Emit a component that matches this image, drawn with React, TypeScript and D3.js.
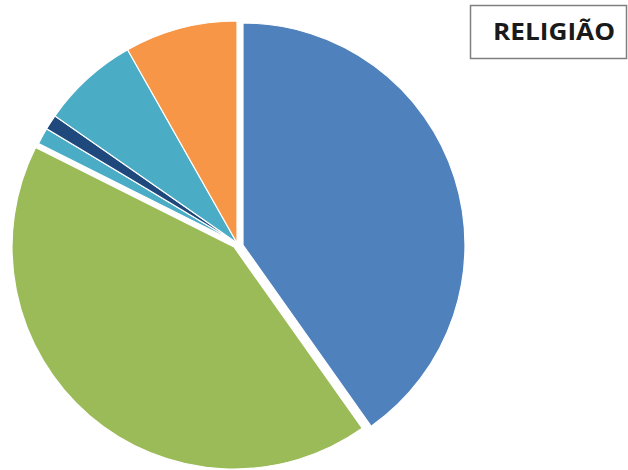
import React from "react";
import * as d3 from "d3";

const categories = ["Católica", "Evangélica", "Espírita", "Outras", "Sem religião", "Não declarada"];
const values = [40.2, 42.2, 1.2, 1.1, 7.1, 8.2];
const colors = ["#4F81BD", "#9BBB59", "#4BACC6", "#1F497D", "#4BACC6", "#F79646"];
const title = "RELIGIÃO";

const W = 628;
const H = 470;
const R = 222;
const cx = 237;
const cy = 243;
// explode offsets per slice
const offsets: [number, number][] = [[6, 2], [-3, 4], [0, 0], [0, 0], [0, 0], [0, 0]];

export default function App() {
  const pie = d3.pie<number>().sort(null).value((d) => d);
  const arcs = pie(values);
  const arc = d3.arc<d3.PieArcDatum<number>>().innerRadius(0).outerRadius(R);
  return (
    <svg width={W} height={H} style={{ position: "absolute", left: 0, top: 0, background: "#fff" }}>
      {arcs.map((a, i) => (
        <path
          key={categories[i]}
          d={arc(a) || ""}
          transform={`translate(${cx + offsets[i][0]},${cy + offsets[i][1]})`}
          fill={colors[i]}
          stroke="#fff"
          strokeWidth={1.2}
        />
      ))}
      <rect x={470.5} y={5.5} width={156} height={53} fill="#fff" stroke="#7f7f7f" strokeWidth={1.5} />
      <text
        x={554}
        y={40}
        textAnchor="middle"
        fontFamily="'Open Sans', 'Liberation Sans', sans-serif"
        fontWeight="bold"
        fontSize={23}
        fill="#1a1a1a"
        textLength={122}
        lengthAdjust="spacingAndGlyphs"
      >
        {title}
      </text>
    </svg>
  );
}
